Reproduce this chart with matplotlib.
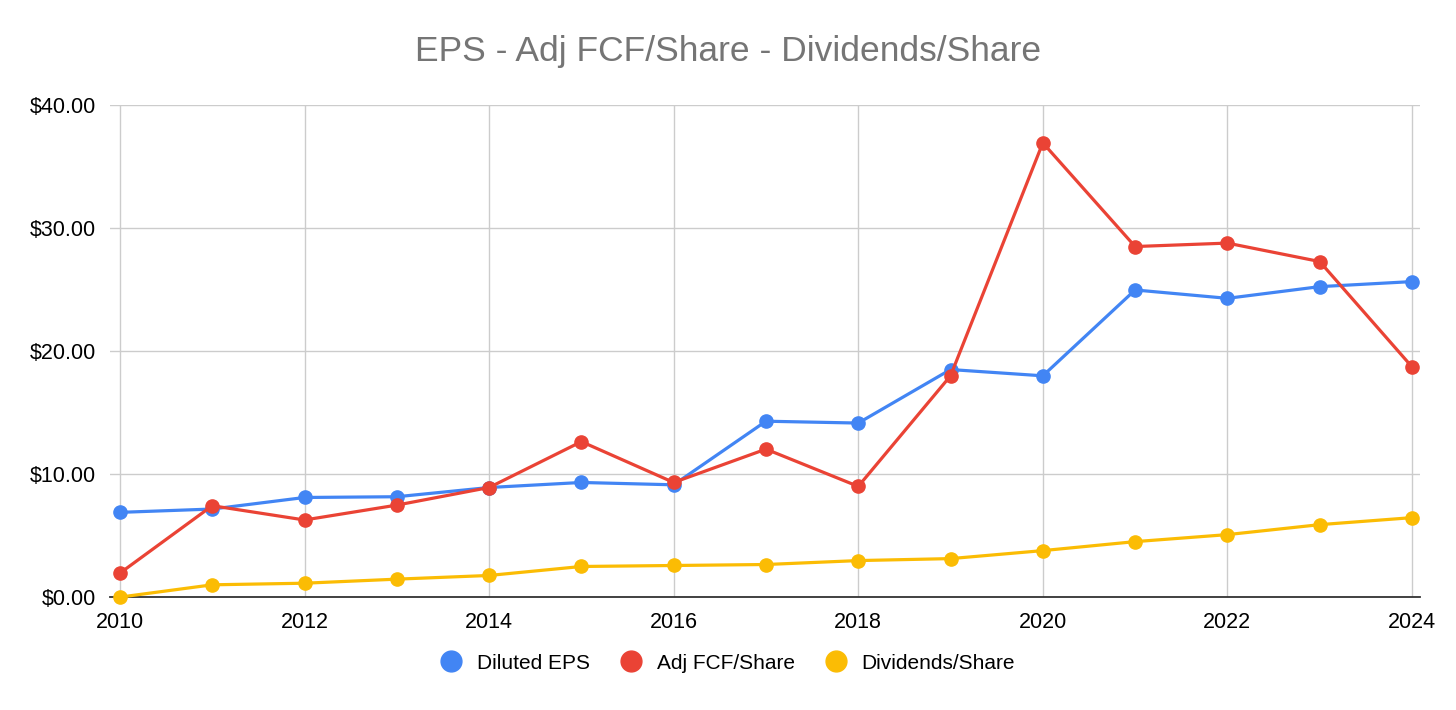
import matplotlib.pyplot as plt
from matplotlib.lines import Line2D
from matplotlib.ticker import FuncFormatter

plt.rcParams['font.family'] = ['Liberation Sans', 'DejaVu Sans']

years = list(range(2010, 2025))
diluted_eps = [6.89, 7.16, 8.10, 8.16, 8.91, 9.32, 9.13, 14.30, 14.15,
               18.50, 17.99, 24.97, 24.29, 25.24, 25.65]
adj_fcf_share = [1.95, 7.43, 6.27, 7.48, 8.91, 12.64, 9.32, 12.03, 9.00,
                 17.99, 36.93, 28.50, 28.78, 27.28, 18.72]
dividends_share = [0.00, 1.00, 1.13, 1.46, 1.76, 2.49, 2.57, 2.65, 2.97,
                   3.13, 3.78, 4.51, 5.08, 5.89, 6.46]

series = [
    ("Diluted EPS", diluted_eps, "#4285F4"),
    ("Adj FCF/Share", adj_fcf_share, "#EA4335"),
    ("Dividends/Share", dividends_share, "#FBBC04"),
]

fig = plt.figure(figsize=(14.56, 7.10), dpi=100)
# plot area runs a little past the first/last year, like the gridlines in the original
ax = fig.add_axes([110 / 1456, 0.159, 1310 / 1456, 0.693])

for name, vals, col in series:
    ax.plot(years, vals, color=col, lw=2.3, marker='o', markersize=9.5,
            zorder=3, clip_on=False)

ax.set_xlim(2010 - 0.108, 2024 + 0.087)
ax.set_ylim(0, 40)
ax.set_xticks(range(2010, 2025, 2))
ax.set_yticks(range(0, 41, 10))
ax.yaxis.set_major_formatter(FuncFormatter(lambda v, p: "${:.2f}".format(v)))
ax.grid(True, color='#cccccc', lw=1)
ax.set_axisbelow(True)
for s in ['top', 'right', 'left']:
    ax.spines[s].set_visible(False)
ax.spines['bottom'].set_color('#333333')
ax.spines['bottom'].set_linewidth(1.3)
ax.spines['bottom'].set_zorder(2)
ax.tick_params(axis='y', length=0, labelsize=15.5, pad=10)
ax.tick_params(axis='x', length=0, labelsize=15.5, pad=11)

fig.suptitle("EPS - Adj FCF/Share - Dividends/Share", y=0.927,
             va='center', fontsize=25.5, color='#757575')

handles = [Line2D([], [], ls='none', marker='o', markersize=15, color=c)
           for _, _, c in series]
fig.legend(handles, [n for n, _, _ in series], loc='center', ncol=3,
           bbox_to_anchor=(0.5, 0.066), frameon=False, fontsize=15,
           handlelength=1.0, handletextpad=0.75, columnspacing=1.45)

fig.savefig("out.png", dpi=100)
